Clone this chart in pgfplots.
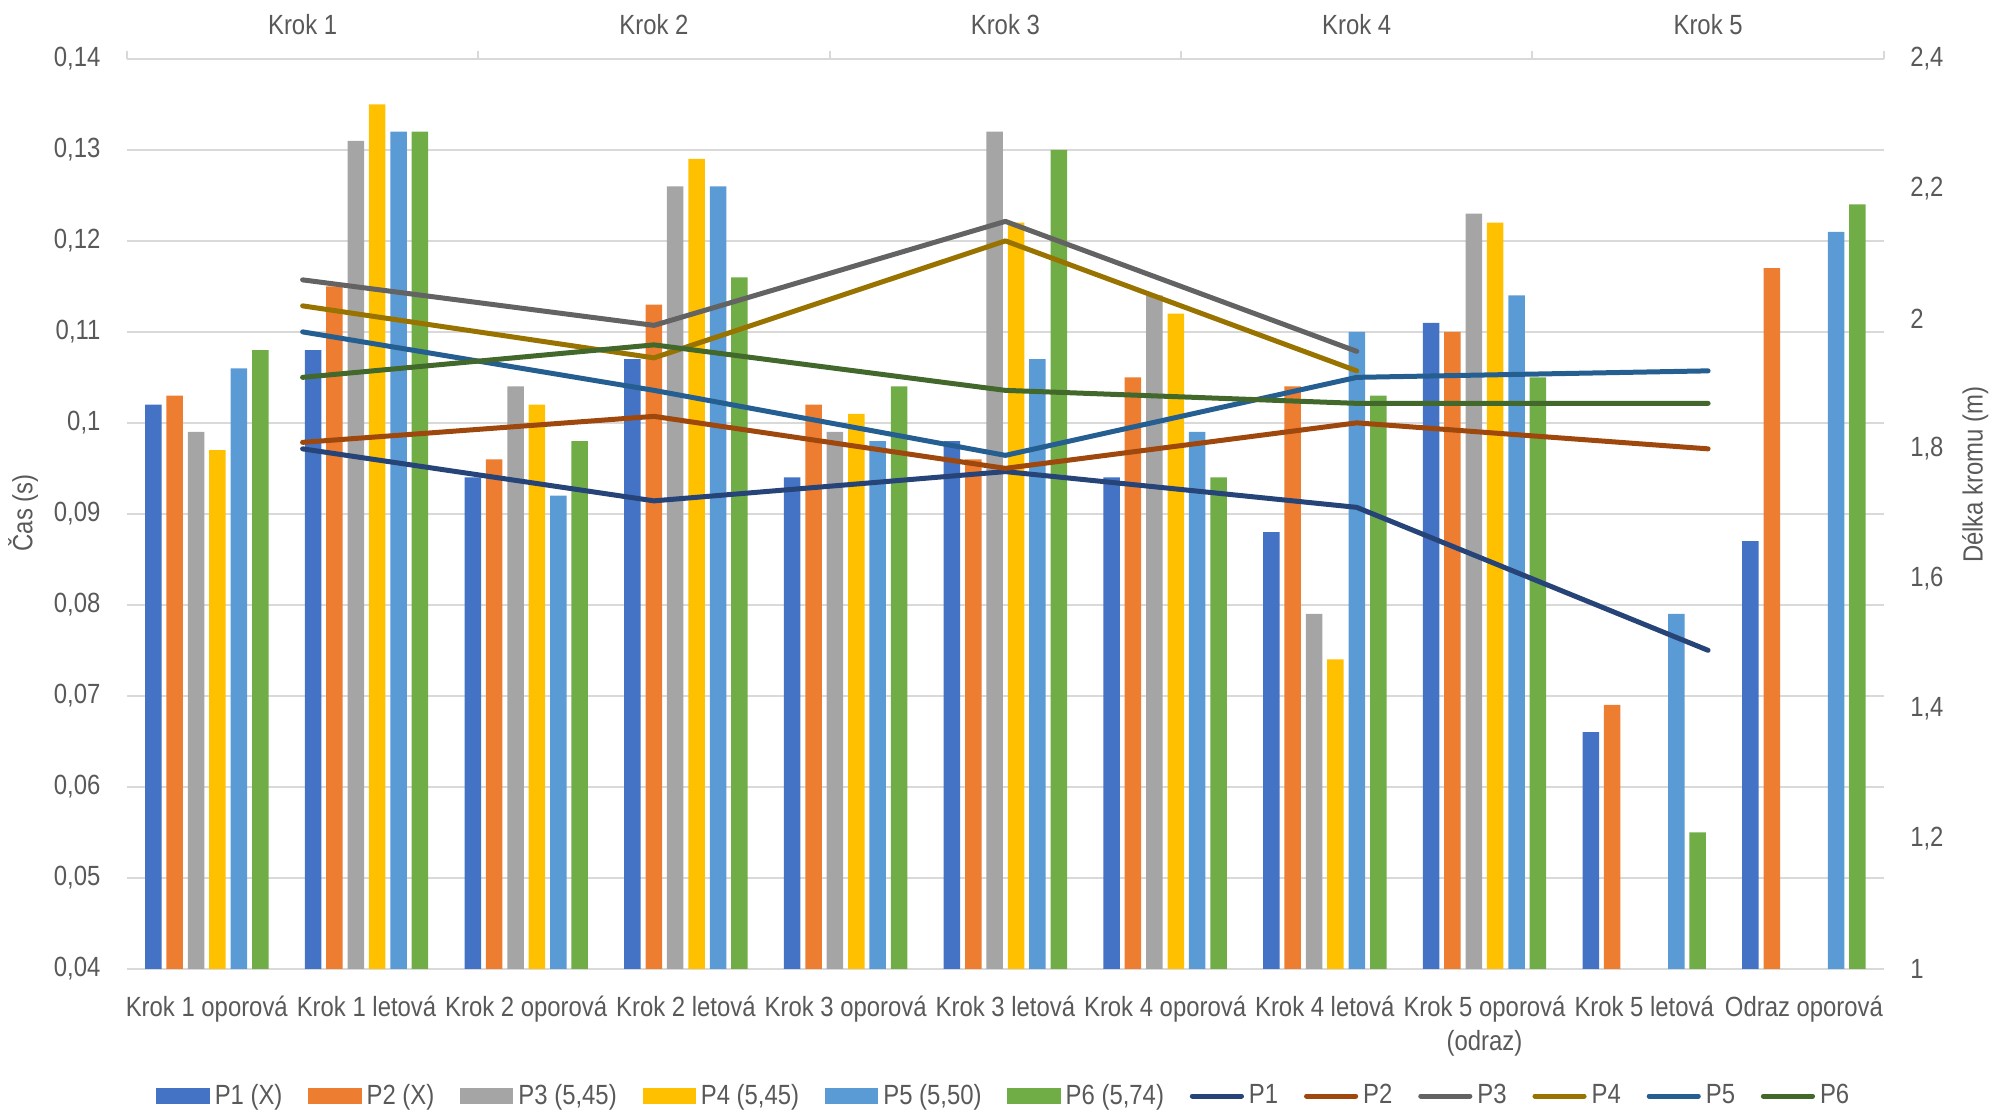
\documentclass[border=0pt]{standalone}
\usepackage{fontspec}
\setmainfont{Liberation Sans}[FakeStretch=0.86]
\usepackage{pgfplots}
\pgfplotsset{compat=1.18}
\definecolor{txt}{HTML}{595959}
\definecolor{gridc}{HTML}{D9D9D9}
\definecolor{P1bar}{HTML}{4472C4}
\definecolor{P2bar}{HTML}{ED7D31}
\definecolor{P3bar}{HTML}{A5A5A5}
\definecolor{P4bar}{HTML}{FFC000}
\definecolor{P5bar}{HTML}{5B9BD5}
\definecolor{P6bar}{HTML}{70AD47}
\definecolor{P1line}{HTML}{264478}
\definecolor{P2line}{HTML}{9E480E}
\definecolor{P3line}{HTML}{636363}
\definecolor{P4line}{HTML}{997300}
\definecolor{P5line}{HTML}{255E91}
\definecolor{P6line}{HTML}{43682B}
\pgfplotsset{
  common/.style={
    at={(45.7pt,53pt)}, anchor=south west,
    scale only axis, width=632.5pt, height=327.6pt,
    /pgf/number format/assume math mode=true,
    tick label style={font=\fontsize{10}{12.2}\selectfont, text=txt},
    label style={font=\fontsize{10}{12.2}\selectfont, text=txt},
    x axis line style={draw=gridc, line width=0.7pt, -},
    y axis line style={draw=none},
    major tick length=0pt,
  },
  lin/.style={line width=1.8pt, line cap=round, line join=round, mark=none},
}
\begin{document}
\begin{tikzpicture}[font=\fontsize{10}{12.2}\selectfont, text=txt]
\useasboundingbox (0,0) rectangle (724pt,401.8pt);
\begin{axis}[common,
  xmin=-0.5, xmax=10.5, ymin=0.04, ymax=0.14,
  ybar=1.76pt, bar width=5.94pt,
  axis x line*=bottom, axis y line*=left,
  xtick={0,...,10},
  xticklabels={Krok 1 oporová, Krok 1 letová, Krok 2 oporová, Krok 2 letová, Krok 3 oporová, Krok 3 letová, Krok 4 oporová, Krok 4 letová, {\begin{tabular}[t]{@{}c@{}}Krok 5 oporová\\(odraz)\end{tabular}}, Krok 5 letová, Odraz oporová},
  xticklabel style={anchor=base, yshift=-17.3pt},
  ytick distance=0.01,
  ymajorgrids, grid style={draw=gridc, line width=0.7pt},
  yticklabel style={/pgf/number format/fixed, /pgf/number format/precision=2, /pgf/number format/use comma, anchor=east, xshift=-6pt},
  ylabel={Čas (s)},
  ylabel style={at={(axis description cs:-0.0591,0.501)}, anchor=center},
]
\addplot[fill=P1bar, draw=none] coordinates {(0,0.102) (1,0.108) (2,0.094) (3,0.107) (4,0.094) (5,0.098) (6,0.094) (7,0.088) (8,0.111) (9,0.066) (10,0.087)};
\addplot[fill=P2bar, draw=none] coordinates {(0,0.103) (1,0.115) (2,0.096) (3,0.113) (4,0.102) (5,0.096) (6,0.105) (7,0.104) (8,0.110) (9,0.069) (10,0.117)};
\addplot[fill=P3bar, draw=none] coordinates {(0,0.099) (1,0.131) (2,0.104) (3,0.126) (4,0.099) (5,0.132) (6,0.114) (7,0.079) (8,0.123)};
\addplot[fill=P4bar, draw=none] coordinates {(0,0.097) (1,0.135) (2,0.102) (3,0.129) (4,0.101) (5,0.122) (6,0.112) (7,0.074) (8,0.122)};
\addplot[fill=P5bar, draw=none] coordinates {(0,0.106) (1,0.132) (2,0.092) (3,0.126) (4,0.098) (5,0.107) (6,0.099) (7,0.110) (8,0.114) (9,0.079) (10,0.121)};
\addplot[fill=P6bar, draw=none] coordinates {(0,0.108) (1,0.132) (2,0.098) (3,0.116) (4,0.104) (5,0.130) (6,0.094) (7,0.103) (8,0.105) (9,0.055) (10,0.124)};
\end{axis}
\begin{axis}[common,
  xmin=-0.5, xmax=4.5, ymin=1, ymax=2.4,
  axis x line*=top, axis y line*=right,
  xtick={0,...,4},
  xticklabels={Krok 1, Krok 2, Krok 3, Krok 4, Krok 5},
  xticklabel style={anchor=base, yshift=8.8pt},
  extra x ticks={-0.5,0.5,1.5,2.5,3.5,4.5},
  extra x tick labels={},
  extra x tick style={major tick length=2.9pt, tick align=outside, major tick style={draw=gridc, line width=0.7pt}},
  ytick distance=0.2,
  yticklabel style={/pgf/number format/fixed, /pgf/number format/precision=1, /pgf/number format/use comma, anchor=west, xshift=6pt},
  ylabel={Délka kromu (m)},
  ylabel style={at={(axis description cs:1.052,0.543)}, anchor=center},
  legend image code/.code={\draw[#1] (0.9pt,0pt) -- (18.6pt,0pt);},
  legend columns=12,
  legend style={at={(axis description cs:0.5,-0.1398)}, anchor=center, draw=none, fill=none,
    font=\fontsize{10}{12.2}\selectfont, text=txt,
    column sep=0pt, /tikz/every even column/.append style={column sep=7.5pt},
    nodes={inner sep=1.8pt}},
  legend cell align=left,
]
\addlegendimage{legend image code/.code={\fill[P1bar] (0pt,-2.6pt) rectangle (18.8pt,2.6pt);}}
\addlegendentry{P1 (X)}
\addlegendimage{legend image code/.code={\fill[P2bar] (0pt,-2.6pt) rectangle (18.8pt,2.6pt);}}
\addlegendentry{P2 (X)}
\addlegendimage{legend image code/.code={\fill[P3bar] (0pt,-2.6pt) rectangle (18.8pt,2.6pt);}}
\addlegendentry{P3 (5,45)}
\addlegendimage{legend image code/.code={\fill[P4bar] (0pt,-2.6pt) rectangle (18.8pt,2.6pt);}}
\addlegendentry{P4 (5,45)}
\addlegendimage{legend image code/.code={\fill[P5bar] (0pt,-2.6pt) rectangle (18.8pt,2.6pt);}}
\addlegendentry{P5 (5,50)}
\addlegendimage{legend image code/.code={\fill[P6bar] (0pt,-2.6pt) rectangle (18.8pt,2.6pt);}}
\addlegendentry{P6 (5,74)}
\addplot[lin, color=P1line] coordinates {(0,1.80) (1,1.72) (2,1.765) (3,1.71) (4,1.49)};
\addlegendentry{P1}
\addplot[lin, color=P2line] coordinates {(0,1.81) (1,1.85) (2,1.77) (3,1.84) (4,1.80)};
\addlegendentry{P2}
\addplot[lin, color=P3line] coordinates {(0,2.06) (1,1.99) (2,2.15) (3,1.95)};
\addlegendentry{P3}
\addplot[lin, color=P4line] coordinates {(0,2.02) (1,1.94) (2,2.12) (3,1.92)};
\addlegendentry{P4}
\addplot[lin, color=P5line] coordinates {(0,1.98) (1,1.89) (2,1.79) (3,1.91) (4,1.92)};
\addlegendentry{P5}
\addplot[lin, color=P6line] coordinates {(0,1.91) (1,1.96) (2,1.89) (3,1.87) (4,1.87)};
\addlegendentry{P6}
\end{axis}
\end{tikzpicture}
\end{document}
